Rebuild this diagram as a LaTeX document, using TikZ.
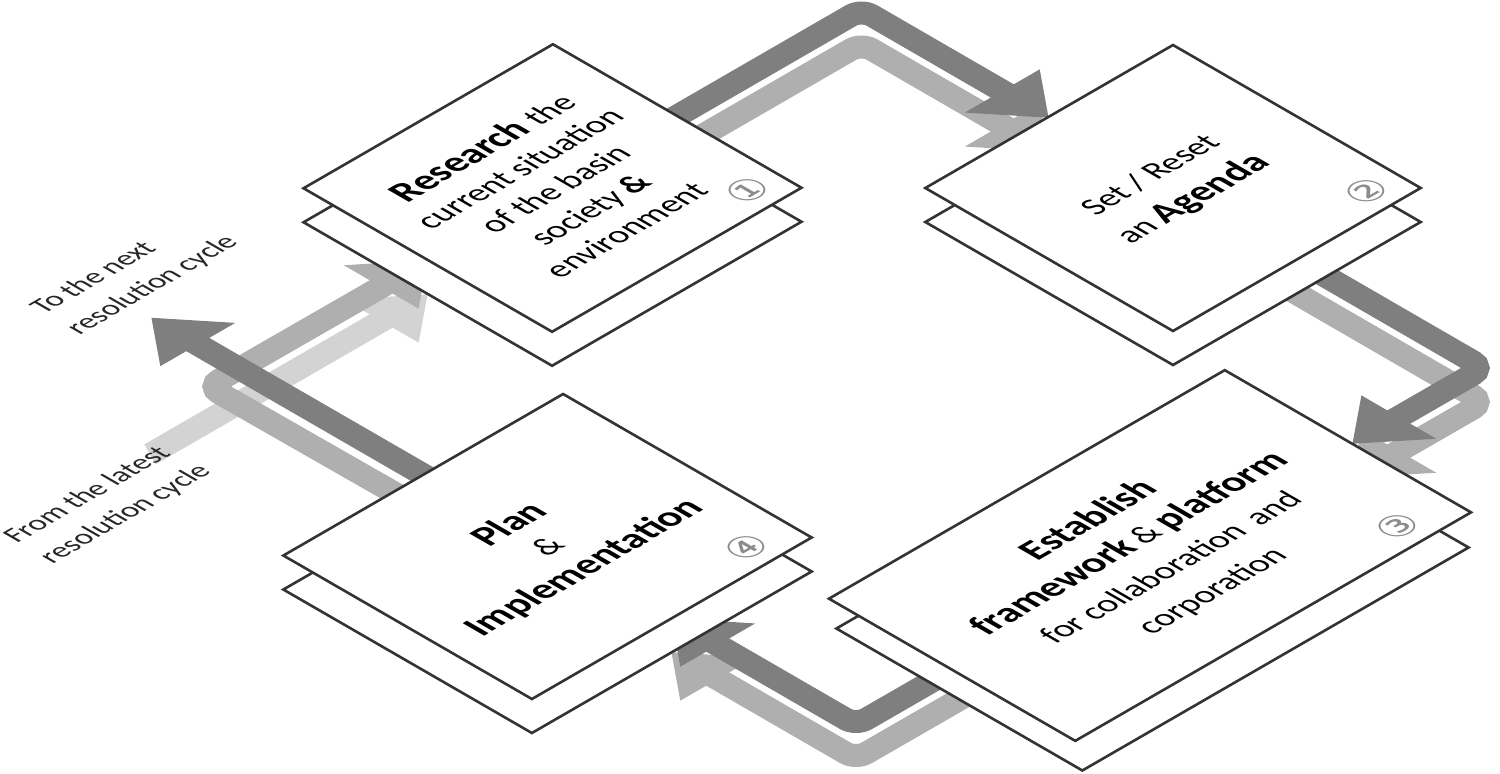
\documentclass[tikz,border=0pt]{standalone}
\usepackage{fontspec}
\setmainfont{Carlito}
\newfontfamily\circled{DejaVu Sans}
\usepackage{xcolor}
\usetikzlibrary{arrows.meta}

\definecolor{bandDark}{HTML}{7F7F7F}
\definecolor{bandLight}{HTML}{AFAFAF}
\definecolor{bandPale}{HTML}{D3D3D3}
\definecolor{edgeGray}{HTML}{333333}
\definecolor{numGray}{HTML}{8C8C8C}

\newcommand\heavy[1]{{\fontsize{19.3}{20}\selectfont\bfseries #1}}

\pgfdeclarelayer{back}
\pgfsetlayers{back,main}

\begin{document}
\begin{tikzpicture}[x=0.5pt,y=-0.5pt,
  face node/.style={rectangle,draw=edgeGray,line width=1.3pt,fill=white,inner sep=0pt,
    rotate=30,xslant=-0.5774,yscale=0.866,align=center,
    font=\fontsize{16.6}{20.5}\selectfont},
  label node/.style={rotate=30,xslant=-0.5774,yscale=0.866,inner sep=0pt},
  number node/.style={label node,text=numGray,font=\circled\fontsize{20}{20}\selectfont},
  band/.style={line width=11.5pt,rounded corners=6pt,line cap=rect},
  head a/.style={-{Triangle[width=35.5pt,length=27pt,slant=0.577]}},
  head b/.style={-{Triangle[width=35.5pt,length=27pt,slant=-0.577]}},
  low/.style={yshift=-17pt}]

  \useasboundingbox (0,0) rectangle (1500,773);

  \node[face node,minimum width=144pt,minimum height=143.5pt] (1b) at (552.5,222) {};
  \node[face node,minimum width=144pt,minimum height=143.5pt] (1) at (552.5,188)
    {\heavy{Research} the\\current situation\\of the basin\\society \textbf{\&}\\environment};

  \node[face node,minimum width=143pt,minimum height=143pt] (2b) at (1173,222) {};
  \node[face node,minimum width=143pt,minimum height=143pt,
    font=\fontsize{16.6}{24.5}\selectfont] (2) at (1173,188)
    {Set / Reset\\an \heavy{Agenda}};

  \node[face node,minimum width=223pt,minimum height=142pt] (3b) at (1152.5,588) {};
  \node[face node,minimum width=228.5pt,minimum height=142.2pt,
    font=\fontsize{16.6}{23.5}\selectfont] (3) at (1150,555.5)
    {\heavy{Establish}\\\heavy{framework}\,\& \heavy{platform}\\for collaboration\, and\\corporation};

  \node[face node,minimum width=161.5pt,minimum height=143.5pt] (4b) at (547.5,580.5) {};
  \node[face node,minimum width=161.5pt,minimum height=143.5pt,
    font=\fontsize{16.6}{21.5}\selectfont] (4) at (547.5,546.5)
    {\heavy{Plan}\\\&\\\heavy{Implementation}};

  \node[number node] (n1) at (747,190) {①};
  \node[number node] (n2) at (1366,191) {②};
  \node[number node] (n3) at (1397,526) {③};
  \node[number node] (n4) at (746,547) {④};

  \node[label node,align=left,text=black!85,font=\fontsize{14.5}{20.5}\selectfont] (to next) at (135,275)
    {To the next\\resolution cycle};
  \node[label node,align=left,text=black!85,font=\fontsize{14.5}{20.5}\selectfont] (from latest) at (108,504)
    {From the latest\\resolution cycle};

  \coordinate (c12) at (861.5,9.5);
  \coordinate (t12) at (1049,118);
  \coordinate (c23) at (1484,368);
  \coordinate (t23) at (1352,444);
  \coordinate (c34) at (856,725);
  \coordinate (t34) at (671,618);
  \coordinate (next) at (151,317.5);
  \coordinate (c41) at (208,386.5);
  \coordinate (t41) at (428,260);
  \coordinate (latest) at (160,448.6);
  \coordinate (t01) at (428,294);

  \begin{pgfonlayer}{back}
    \draw[band,bandPale,head b] (latest) -- (t01);
    \draw[band,bandLight,head a] ([low]1.center) -- ([low]c12) -- ([low]t12);
    \draw[band,bandLight,head b] ([low]2.center) -- ([low]c23) -- ([low]t23);
    \draw[band,bandLight,head a] ([low]3.center) -- ([low]c34) -- ([low]t34);
    \draw[band,bandLight,head b] ([low]4.center) -- (c41) -- (t41);
    \draw[band,bandDark,head a] (1.center) -- (c12) -- (t12);
    \draw[band,bandDark,head b] (2.center) -- (c23) -- (t23);
    \draw[band,bandDark,head a] (3.center) -- (c34) -- (t34);
    \draw[band,bandDark,head a] (4.center) -- (next);
  \end{pgfonlayer}
\end{tikzpicture}
\end{document}
